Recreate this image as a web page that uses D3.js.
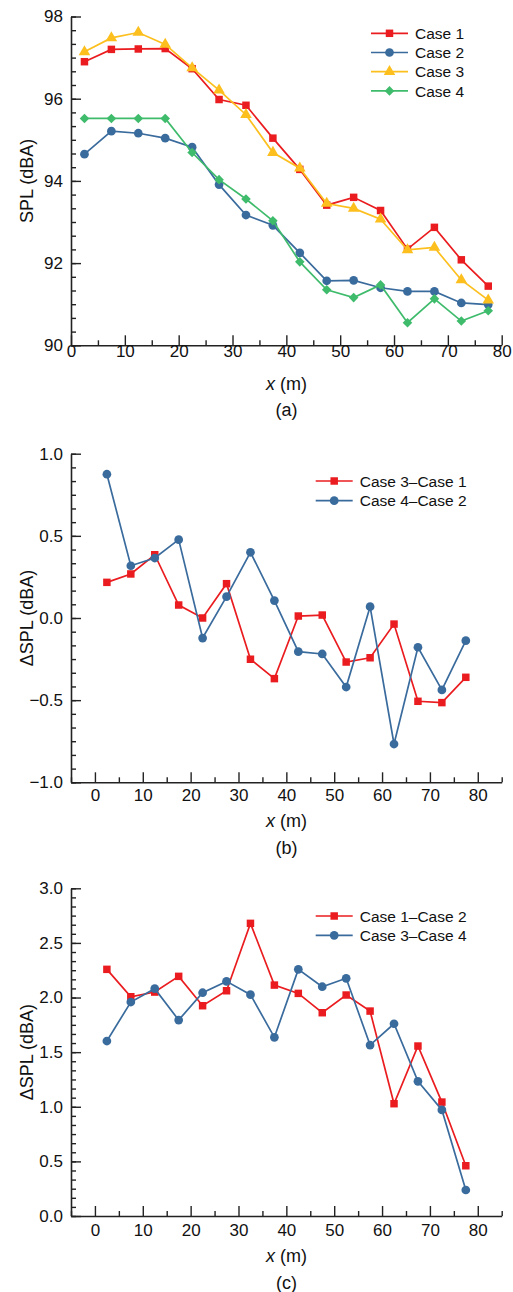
<!DOCTYPE html>
<html>
<head>
<script src="https://d3js.org/d3.v7.min.js" charset="utf-8"></script>
<style>
    body { margin: 0; background: #fff; }
    text { font-family: Arial, "Liberation Sans", sans-serif; fill: #111; }
</style>
</head>
<body>
<script>
    // distances (m) where SPL was measured
    var xs = [2.5, 7.5, 12.5, 17.5, 22.5, 27.5, 32.5, 37.5, 42.5, 47.5, 52.5, 57.5, 62.5, 67.5, 72.5, 77.5];

    // panel (a): SPL (dBA)
    var case1 = [96.90, 97.20, 97.21, 97.22, 96.73, 95.98, 95.84, 95.04, 94.28, 93.41, 93.60, 93.28, 92.34, 92.87, 92.08, 91.44];
    var case2 = [94.65, 95.21, 95.16, 95.04, 94.82, 93.91, 93.17, 92.92, 92.25, 91.57, 91.58, 91.40, 91.31, 91.31, 91.03, 90.99];
    var case3 = [97.14, 97.48, 97.61, 97.32, 96.75, 96.21, 95.61, 94.69, 94.31, 93.45, 93.33, 93.07, 92.32, 92.38, 91.59, 91.10];
    var case4 = [95.52, 95.52, 95.52, 95.52, 94.69, 94.03, 93.56, 93.03, 92.03, 91.35, 91.16, 91.47, 90.55, 91.13, 90.59, 90.84];

    // panel (b): differences
    var d31 = [0.217, 0.268, 0.385, 0.079, 0.0, 0.209, -0.251, -0.369, 0.012, 0.018, -0.268, -0.242, -0.037, -0.507, -0.515, -0.361];
    var d42 = [0.875, 0.318, 0.365, 0.477, -0.122, 0.130, 0.400, 0.106, -0.205, -0.219, -0.420, 0.069, -0.767, -0.178, -0.438, -0.138];

    // panel (c): differences
    var d12 = [2.258, 2.007, 2.050, 2.194, 1.925, 2.062, 2.679, 2.114, 2.038, 1.861, 2.023, 1.876, 1.028, 1.556, 1.043, 0.460];
    var d34 = [1.602, 1.959, 2.081, 1.794, 2.044, 2.148, 2.026, 1.636, 2.258, 2.099, 2.176, 1.565, 1.760, 1.233, 0.971, 0.238];

    var red = "#ea1c1f", blue = "#3a6b9d", yellow = "#fcbf1e", green = "#3fbb6c";
    var tickFs = 17, titleFs = 18, legendFs = 15.5;

    var svg = d3.select("body").append("svg")
        .attr("width", 513)
        .attr("height", 1292);

    function range(a, b, step) {
        var out = [];
        for (var i = 0; a + i * step <= b + 1e-9; i++) out.push(+(a + i * step).toFixed(6));
        return out;
    }

    function drawPanel(p) {
        var x = d3.scaleLinear().domain(p.xDomain).range([71, 501.7]);
        var y = d3.scaleLinear().domain(p.yDomain).range(p.yRange);
        var g = svg.append("g");

        // minor ticks first
        g.append("g")
            .attr("transform", "translate(0," + p.yRange[0] + ")")
            .call(d3.axisBottom(x).tickValues(p.xMinor).tickSize(-5).tickFormat(""))
            .call(function(s) { s.select(".domain").remove(); });
        g.append("g")
            .attr("transform", "translate(71,0)")
            .call(d3.axisLeft(y).tickValues(p.yMinor).tickSize(-5).tickFormat(""))
            .call(function(s) { s.select(".domain").remove(); });

        g.append("g")
            .attr("transform", "translate(0," + p.yRange[0] + ")")
            .call(d3.axisBottom(x).tickValues(p.xTicks).tickSizeInner(-10).tickSizeOuter(0).tickPadding(p.xPad));
        g.append("g")
            .attr("transform", "translate(71,0)")
            .call(d3.axisLeft(y).tickValues(p.yTicks).tickSizeInner(-10).tickSizeOuter(0).tickPadding(8)
                .tickFormat(p.yFormat));

        g.selectAll(".tick line").attr("stroke", "#222").attr("stroke-width", 1.4);
        g.selectAll(".domain").attr("stroke", "#222").attr("stroke-width", 1.6);
        g.selectAll(".tick text").attr("font-size", tickFs).attr("font-family", "Arial, 'Liberation Sans', sans-serif").attr("fill", "#111");

        // axis titles
        var xt = g.append("text")
            .attr("x", 286.4)
            .attr("y", p.yRange[0] + p.xTitleDy)
            .attr("text-anchor", "middle")
            .attr("font-size", titleFs);
        xt.append("tspan").attr("font-style", "italic").text("x");
        xt.append("tspan").text(" (m)");

        g.append("text")
            .attr("transform", "translate(33," + (p.yRange[0] + p.yRange[1]) / 2 + ") rotate(-90)")
            .attr("text-anchor", "middle")
            .attr("font-size", titleFs)
            .text(p.yTitle);

        g.append("text")
            .attr("x", 286.4)
            .attr("y", p.yRange[0] + p.labelDy)
            .attr("text-anchor", "middle")
            .attr("font-size", titleFs)
            .text(p.label);

        var line = d3.line()
            .x(function(d, i) { return x(xs[i]); })
            .y(function(d) { return y(d); });

        p.series.forEach(function(s) {
            g.append("path")
                .datum(s.values)
                .attr("fill", "none")
                .attr("stroke", s.color)
                .attr("stroke-width", 1.7)
                .attr("d", line);
            g.selectAll(null)
                .data(s.values)
                .enter()
                .append("path")
                .attr("d", d3.symbol().type(s.symbol).size(s.size))
                .attr("transform", function(d, i) {
                    return "translate(" + x(xs[i]) + "," + y(d) + ")" + (s.rotate ? " rotate(45)" : "");
                })
                .attr("fill", s.color);
        });

        // legend
        p.series.forEach(function(s, i) {
            var ly = p.legendY + i * p.legendStep;
            g.append("line")
                .attr("x1", p.legendX).attr("x2", p.legendX + 37)
                .attr("y1", ly).attr("y2", ly)
                .attr("stroke", s.color).attr("stroke-width", 1.7);
            g.append("path")
                .attr("d", d3.symbol().type(s.symbol).size(s.size))
                .attr("transform", "translate(" + (p.legendX + 18.5) + "," + ly + ")" + (s.rotate ? " rotate(45)" : ""))
                .attr("fill", s.color);
            g.append("text")
                .attr("x", p.legendX + 44)
                .attr("y", ly + 5.6)
                .attr("font-size", legendFs)
                .text(s.name);
        });
    }

    drawPanel({
        xDomain: [0, 80], yDomain: [90, 98], yRange: [345.3, 16.5],
        xTicks: range(0, 80, 10), xMinor: range(5, 75, 10),
        yTicks: range(90, 98, 2), yMinor: range(90, 98, 1 / 3),
        yFormat: d3.format("d"), xPad: 0,
        xTitleDy: 44.5, labelDy: 70.5,
        yTitle: "SPL (dBA)", label: "(a)",
        legendX: 371, legendY: 33.3, legendStep: 19.2,
        series: [
            { name: "Case 1", values: case1, color: red, symbol: d3.symbolSquare, size: 56 },
            { name: "Case 2", values: case2, color: blue, symbol: d3.symbolCircle, size: 60 },
            { name: "Case 3", values: case3, color: yellow, symbol: d3.symbolTriangle, size: 58 },
            { name: "Case 4", values: case4, color: green, symbol: d3.symbolSquare, size: 46, rotate: true }
        ]
    });

    drawPanel({
        xDomain: [-5, 85], yDomain: [-1, 1], yRange: [782.3, 453.7],
        xTicks: range(0, 80, 10), xMinor: range(-5, 85, 10),
        yTicks: range(-1, 1, 0.5), yMinor: range(-1, 1, 0.5 / 6),
        yFormat: function(d) { return d3.format(".1f")(d).replace("-", "\u2212"); }, xPad: 7,
        xTitleDy: 44.5, labelDy: 72,
        yTitle: "\u0394SPL (dBA)", label: "(b)",
        legendX: 315.7, legendY: 481, legendStep: 19.7,
        series: [
            { name: "Case 3\u2013Case 1", values: d31, color: red, symbol: d3.symbolSquare, size: 56 },
            { name: "Case 4\u2013Case 2", values: d42, color: blue, symbol: d3.symbolCircle, size: 60 }
        ]
    });

    drawPanel({
        xDomain: [-5, 85], yDomain: [0, 3], yRange: [1216, 888.3],
        xTicks: range(0, 80, 10), xMinor: range(-5, 85, 10),
        yTicks: range(0, 3, 0.5), yMinor: range(0, 3, 0.5 / 6),
        yFormat: d3.format(".1f"), xPad: 8,
        xTitleDy: 45.5, labelDy: 73,
        yTitle: "\u0394SPL (dBA)", label: "(c)",
        legendX: 315.7, legendY: 916, legendStep: 19.3,
        series: [
            { name: "Case 1\u2013Case 2", values: d12, color: red, symbol: d3.symbolSquare, size: 56 },
            { name: "Case 3\u2013Case 4", values: d34, color: blue, symbol: d3.symbolCircle, size: 60 }
        ]
    });
</script>
</body>
</html>
